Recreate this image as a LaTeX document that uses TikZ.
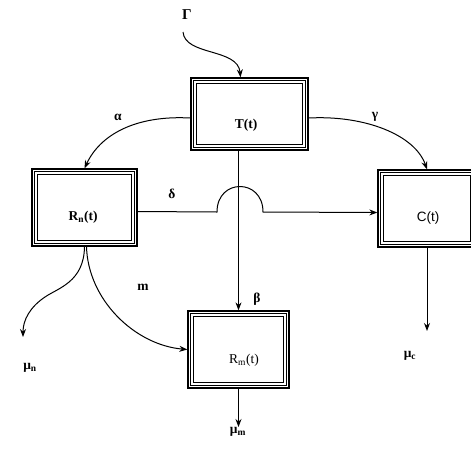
\documentclass[tikz,border=0pt]{standalone}
\usepackage{fontspec}
\setmainfont{Liberation Serif}
\newfontfamily\sansf{Liberation Sans}
\usetikzlibrary{arrows.meta}
\tikzset{
  boxnode/.style={draw, line width=1.3pt, inner sep=0pt, minimum width=#1},
  lbl/.style={font=\fontsize{13.5}{15}\selectfont\bfseries, inner sep=1pt},
  arr/.style={line width=1pt, -{Stealth[length=8pt,width=6pt]}},
  innerbox/.style={line width=1.2pt},
  innermost/.style={line width=0.9pt}
}
\begin{document}
\begin{tikzpicture}[x=1pt,y=-1pt]
\useasboundingbox (0,0) rectangle (471,469);
% boxes
\node[boxnode=117pt, minimum height=72pt] (T) at (249.5,114) {};
\node[boxnode=105pt, minimum height=77pt] (Rn) at (84.5,207.5) {};
\node[boxnode=98pt, minimum height=77pt] (C) at (427,208.5) {};
\node[boxnode=101pt, minimum height=77pt] (Rm) at (238.5,349.5) {};
\foreach \bx in {T,Rn,C,Rm}{
  \draw[innerbox] ([shift={(2.8,2.8)}]\bx.north west) rectangle ([shift={(-2.8,-2.8)}]\bx.south east);
  \draw[innermost] ([shift={(6.5,6.5)}]\bx.north west) rectangle ([shift={(-6.5,-6.5)}]\bx.south east);
}
% box texts
\node[lbl] (Tt) at (246,125) {T(t)};
\node[lbl] (Rnt) at (83,217) {R\textsubscript{n}(t)};
\node[lbl, font=\fontsize{13.5}{15}\selectfont\sansf] (Ct) at (428,218) {C(t)};
\node[lbl, font=\fontsize{13.5}{15}\selectfont] (Rmt) at (244,360) {R\textsubscript{m}(t)};
% labels
\node[lbl, font=\fontsize{15}{17}\selectfont\bfseries] (G) at (187,15) {Γ};
\node[lbl] (al) at (118,117) {α};
\node[lbl] (ga) at (375,117) {γ};
\node[lbl] (de) at (172,194) {δ};
\node[lbl] (be) at (257,299) {β};
\node[lbl] (m) at (143,287) {m};
\node[lbl] (mun) at (30,368) {μ\textsubscript{n}};
\node[lbl] (muc) at (410,356) {μ\textsubscript{c}};
\node[lbl] (mum) at (238,432) {μ\textsubscript{m}};
% coordinates
\coordinate (g0) at (183,32);
\coordinate (en) at (23,337);
\coordinate (ec) at (427,331);
\coordinate (em) at (238.5,427);
% connectors
\draw[arr] (g0) .. controls (185,56) and (238,48) .. ([xshift=-9pt]T.north);
\draw[arr] ([yshift=-4pt]T.west) .. controls (135,115) and (100,135) .. (Rn.north);
\draw[arr] ([yshift=-4pt]T.east) .. controls (365,115) and (415,135) .. (C.north);
\draw[arr] (Rm.north |- T.south) -- (Rm.north);
\draw[arr] ([yshift=-4pt]Rn.east) -- (217,212) .. controls (217,178) and (263,178) .. (263,212) -- ([yshift=-4pt]C.west);
\draw[arr] (Rn.south) .. controls (84,282) and (58,288) .. (45,297) .. controls (30,307) and (23,320) .. (en);
\draw[arr] ([xshift=2pt]Rn.south) .. controls (88,300) and (135,345) .. (Rm.west);
\draw[arr] (C.south) -- (ec);
\draw[arr] (Rm.south) -- (em);
\end{tikzpicture}
\end{document}
